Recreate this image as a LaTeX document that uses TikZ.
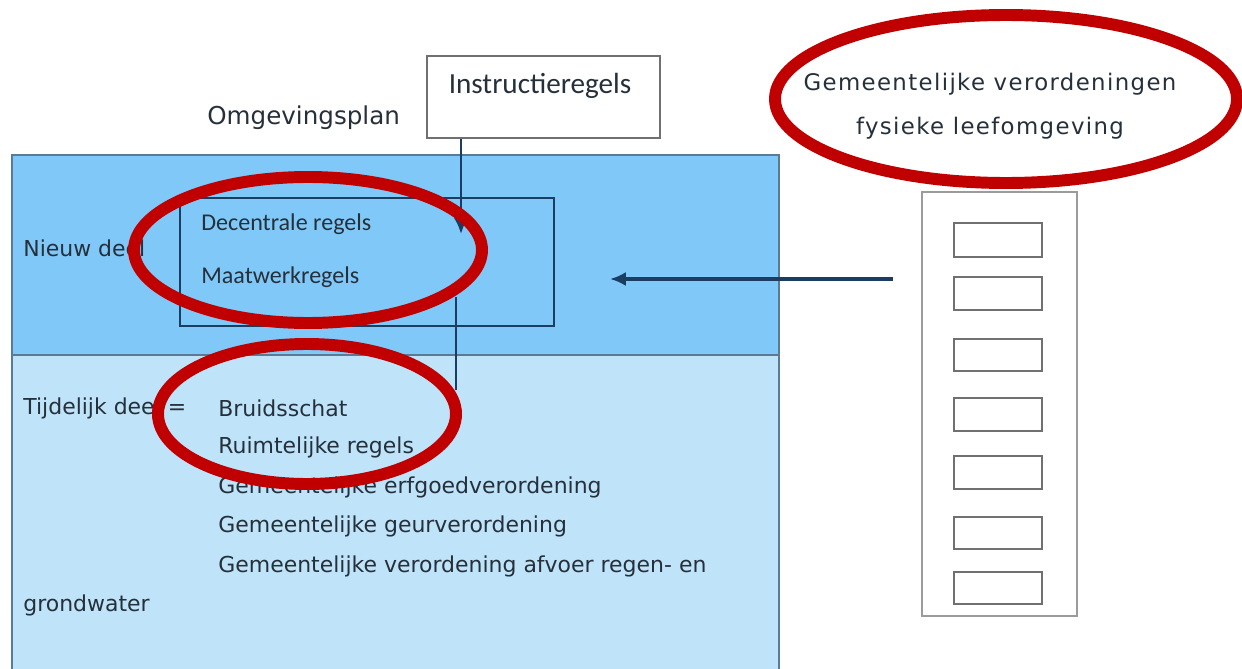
\documentclass[tikz,border=0pt]{standalone}
\usepackage{fontspec}
\setmainfont{DejaVu Sans}
\newfontfamily\calib{Carlito}
\newfontfamily\spaced[LetterSpace=6]{DejaVu Sans}
\usetikzlibrary{arrows.meta}
\definecolor{upblue}{HTML}{80C8F8}
\definecolor{lowblue}{HTML}{BFE4FA}
\definecolor{frame}{HTML}{5A7A96}
\definecolor{navy}{HTML}{1B3D62}
\definecolor{txt}{HTML}{26303A}
\definecolor{redring}{HTML}{C00000}
\definecolor{graybox}{HTML}{707070}
\tikzset{
  lbl/.style={anchor=west, inner sep=0pt, text=txt, font=\fontsize{12.5}{14}\selectfont},
  clbl/.style={anchor=west, inner sep=0pt, text=txt, font=\calib\fontsize{13.7}{16}\selectfont},
  smallbox/.style={draw=graybox, line width=1.2pt, fill=white},
  ring/.style={draw=redring, line width=6.8pt},
  conn/.style={draw=navy, line width=1.5pt},
  tip/.style={-{Latex[length=9pt,width=8pt]}}
}
\begin{document}
\begin{tikzpicture}[x=0.02cm,y=-0.02cm]
\useasboundingbox (0,0) rectangle (1242,669);
% big panels
\fill[upblue] (12,155) rectangle (779,355);
\fill[lowblue] (12,355) rectangle (779,669);
\draw[frame, line width=1.2pt] (12,669) -- (12,155) -- (779,155) -- (779,669);
\draw[frame, line width=1.2pt] (12,355) -- (779,355);
% inner box
\node[draw=navy, line width=1.3pt, fill=upblue, minimum width=374*0.02cm, minimum height=128*0.02cm, inner sep=0pt, anchor=north west] (inner) at (179,197) {};
% instructieregels
\node[draw=graybox, line width=1.2pt, fill=white, minimum width=233*0.02cm, minimum height=82*0.02cm, inner sep=0pt, anchor=north west] (instr) at (426,55) {};
\node[text=txt, font=\calib\fontsize{16.6}{18}\selectfont, inner sep=0pt] (instrlbl) at (540,86) {Instructieregels};
\node[lbl, font=\fontsize{14}{16}\selectfont] (omg) at (207,118) {Omgevingsplan};
% connectors
\coordinate (arrowend) at (461,234);
\coordinate (lowtop) at (456,297);
\coordinate (lowbot) at (456,390);
\draw[conn, tip] (instr.south west -| arrowend) -- (arrowend);
\draw[conn] (lowbot) -- (lowtop);
% texts
\node[clbl] (dec) at (201,224) {Decentrale regels};
\node[clbl] (maat) at (201,277) {Maatwerkregels};
\node[lbl] (nieuw) at (23,248) {Nieuw deel};
\node[lbl] (tijd) at (23,408) {Tijdelijk deel =};
\node[lbl] (t1) at (218,408) {Bruidsschat};
\node[lbl] (t2) at (218,447) {Ruimtelijke regels};
\node[lbl] (t3) at (218,487) {Gemeentelijke erfgoedverordening};
\node[lbl] (t4) at (218,526) {Gemeentelijke geurverordening};
\node[lbl] (t5) at (218,566) {Gemeentelijke verordening afvoer regen- en};
\node[lbl] (t6) at (23,605) {grondwater};
% right panel
\node[draw=graybox!70, line width=1pt, fill=white, minimum width=155*0.02cm, minimum height=424*0.02cm, inner sep=0pt, anchor=north west] (panel) at (921,191) {};
\foreach \y/\h [count=\i] in {222/34, 276/33, 338/32, 397/33, 455/33, 516/32, 571/32} {
  \node[smallbox, minimum width=88*0.02cm, minimum height=\h*0.02cm, inner sep=0pt, anchor=north west] (b\i) at (953,\y) {};
}
\coordinate (hstart) at (893,279);
\coordinate (hend) at (610,279);
\draw[conn, line width=2pt, tip] (hstart) -- (hend);
% title right
\node[text=txt, font=\spaced\fontsize{13}{15}\selectfont, inner sep=0pt] (g1) at (990,84) {Gemeentelijke verordeningen};
\node[text=txt, font=\spaced\fontsize{13}{15}\selectfont, inner sep=0pt] (g2) at (990,128) {fysieke leefomgeving};
% red rings
\draw[ring] (308,250) ellipse [x radius=174, y radius=73];
\draw[ring] (307,414) ellipse [x radius=149, y radius=70];
\draw[ring] (1006,99) ellipse [x radius=231, y radius=84];
\end{tikzpicture}
\end{document}
